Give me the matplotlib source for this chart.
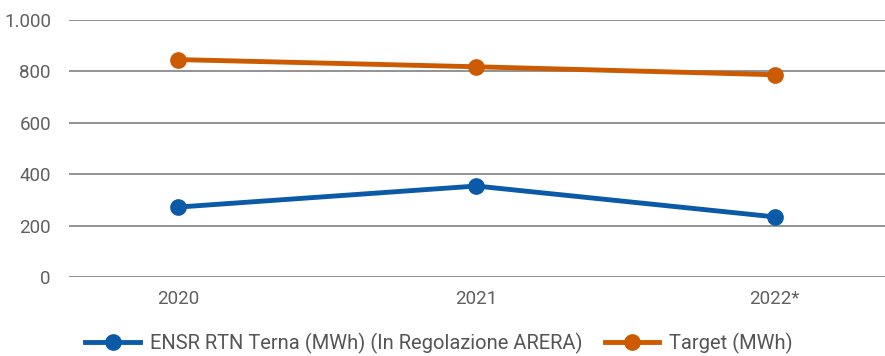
import numpy as np
import matplotlib.pyplot as plt

years = ["2020", "2021", "2022*"]
ensr = [272, 354, 234]
target = [846, 818, 787]

plt.rcParams['font.family'] = ['Roboto', 'DejaVu Sans']

fig = plt.figure(figsize=(8.85, 3.56), dpi=100)
ax = fig.add_axes([69/885, 1 - 277/356, 1 - 69/885, 257/356])

x = np.arange(len(years))
ax.plot(x, ensr, color="#0a5aa8", lw=3.5, marker="o", ms=11,
        label="ENSR RTN Terna (MWh) (In Regolazione ARERA)")
ax.plot(x, target, color="#cc5a00", lw=3.5, marker="o", ms=11,
        label="Target (MWh)")

ax.set_ylim(0, 1000)
ax.set_xlim(-0.365, 2.37)
ax.set_yticks([0, 200, 400, 600, 800, 1000])
ax.set_yticklabels(["0", "200", "400", "600", "800", "1.000"])
ax.set_xticks(x)
ax.set_xticklabels(years)
ax.grid(axis="y", color="#8a8a8a", lw=1.3)
ax.set_axisbelow(True)
for s in ax.spines.values():
    s.set_visible(False)
ax.tick_params(length=0, labelsize=13.5, labelcolor="#606060")
ax.tick_params(axis="y", pad=13)
ax.tick_params(axis="x", pad=9)

fig.legend(loc="center", bbox_to_anchor=(439/885, 1 - 343/356), ncol=2, frameon=False,
           fontsize=14.5, labelcolor="#555555", handlelength=2.7, columnspacing=1.1,
           handletextpad=0.5)

fig.savefig("out.png", dpi=100)
